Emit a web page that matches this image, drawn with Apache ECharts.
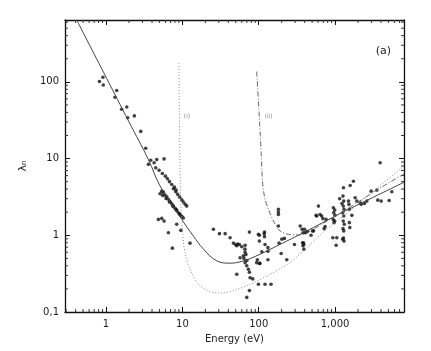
<!DOCTYPE html>
<html>
<head>
<meta charset="utf-8">
<script src="https://cdn.jsdelivr.net/npm/echarts@6/dist/echarts.min.js"></script>
<style>
  html, body { margin: 0; padding: 0; background: #fff; }
  #main { width: 431px; height: 351px; }
</style>
</head>
<body>
<div id="main"></div>
<script>
// measured points [energy eV, lambda_n]
var points = [
  [0.82,101],[0.91,115],[0.92,91],[1.31,63],[1.38,77],[1.60,44],[1.87,47],[1.92,34],[2.35,36],
  [2.85,22.6],[3.31,13.6],[3.59,8.4],[3.85,9.5],[4.26,8.8],
  [4.48,7.6],[4.62,9.7],[4.95,7.05],[5.47,6.4],[5.76,9.9],[6.0,5.9],[6.37,5.45],[6.77,5.0],
  [7.26,4.6],[7.87,4.24],[8.27,3.88],
  [7.63,4.04],[8.19,3.69],[8.69,3.41],[9.23,3.14],[9.82,2.9],[10.3,2.71],[10.9,2.53],[11.4,2.4],
  [5.1,3.48],[5.37,3.76],[5.64,3.65],[5.93,3.34],[6.24,3.18],[6.56,2.94],[6.9,2.74],[7.26,2.58],
  [7.63,2.4],[8.02,2.24],[8.43,2.11],[8.87,1.97],[9.33,1.85],[9.82,1.77],[10.3,1.68],
  [5.52,3.31],[6.11,3.02],[6.77,2.71],[7.48,2.4],[8.27,2.16],[9.14,1.91],
  [4.85,1.61],[5.37,1.66],[5.76,1.53],[6.56,1.08],[8.43,1.39],[9.53,1.16],[7.4,0.68],[12.6,0.79],
  [25.5,1.20],[30.6,1.05],[36.3,1.05],[42.2,0.93],[46.7,0.79],[51.6,0.73],[55.9,0.76],[60,0.71],
  [66.3,0.74],[57,0.51],[63,0.54],[66.3,0.60],[66.3,0.44],[69.8,0.40],[73.3,0.36],[75.5,0.33],
  [77.1,0.28],[83.6,0.27],[51.6,0.31],[75.5,0.19],[69.8,0.155],[75.5,1.10],[102,1.0],[102,0.84],
  [118,1.05],[110,0.61],[94,0.44],[102,0.43],[121,0.76],[99,0.23],[121,0.23],[145,0.23],
  [66,0.66],[68,0.56],[70,0.47],[64,0.50],[50,0.75],[53,0.77],
  [181,2.18],[181,2.01],[181,1.87],[181,1.32],[99,1.03],[119,1.10],[119,0.96],[132,0.69],
  [132,0.62],[96,0.48],[104,0.43],[132,0.48],[185,0.79],[201,0.89],[217,0.91],[197,0.58],
  [233,0.48],[294,0.76],[349,1.32],[398,1.20],[406,1.08],[420,1.10],[435,1.12],[385,0.80],
  [390,0.76],[390,0.66],[506,1.14],[565,1.82],[575,1.78],[606,2.40],[741,1.30],
  [370,1.2],[380,1.08],[375,0.80],[380,0.73],[485,1.0],[523,1.14],[636,1.87],[668,1.78],[762,1.61],
  [692,1.65],[720,1.22],[935,0.93],[1054,0.93],[1288,0.92],[1033,0.74],
  [950,2.29],[990,2.13],[960,1.97],[1000,1.82],[945,1.61],[985,1.53],[970,1.46],
  [1290,4.16],[1270,3.24],[1300,2.79],[1280,2.40],[1310,2.18],[1260,1.97],[1300,1.78],[1280,1.53],
  [1320,1.39],[1270,1.22],[1300,1.14],[1260,0.89],[1310,0.84],
  [1148,3.0],[1230,2.60],[1500,2.79],[1520,2.53],[1540,2.18],[1578,4.46],[1740,5.07],[1834,3.09],
  [1930,2.79],[1660,1.82],[1540,1.46],[1560,1.26],[2130,2.66],[2200,2.53],[2610,2.79],
  [3900,8.8],[2970,3.76],[3530,3.88],[5540,3.69],[3630,2.87],[4020,2.79],[5110,2.84],[2430,2.60]
];

// solid universal curve
var curveSolid = [
  [0.413,638],[1,115],[2,30],[3.59,9.7],[5.1,4.4],[9.8,1.61],[13.9,0.98],[18.9,0.66],
  [28.3,0.464],[42,0.433],[63,0.464],[104,0.566],[190,0.76],[385,1.08],[1228,1.97],[8000,4.9]
];
// curve (i), dotted
var curveI = [
  [9.0,175],[9.2,20],[9.5,3],[10.1,1.03],[10.8,0.60],[12.6,0.36],[16.2,0.23],[23.1,0.184],
  [31.1,0.177],[46.7,0.19],[77,0.23],[141,0.31],[256,0.44],[405,0.66],[741,1.15],[1440,1.95],
  [3000,3.6],[8000,8.0]
];
// curve (ii), dash-dot
var curveII = [
  [94,136],[105,20],[112,5],[115,3.96],[121,2.93],[134,2.18],[156,1.53],[190,1.14],[245,1.03],
  [330,1.01],[405,1.05],[741,1.48],[1228,2.0],[2350,3.0],[4000,4.2],[8000,6.3]
];

// minor tick positions (log axes)
var minorX = [0.3,0.4,0.5,0.6,0.7,0.8,0.9, 2,3,4,5,6,7,8,9, 20,30,40,50,60,70,80,90,
  200,300,400,500,600,700,800,900, 2000,3000,4000,5000,6000,7000];
var minorY = [0.2,0.3,0.4,0.5,0.6,0.7,0.8,0.9, 2,3,4,5,6,7,8,9, 20,30,40,50,60,70,80,90,
  200,300,400,500,600];

var labelFont = 'DejaVu Sans';
var myChart = echarts.init(document.getElementById('main'));

var baseX = {
  type: 'log', logBase: 10, min: 0.29, max: 8000,
  axisLine: { show: true, lineStyle: { color: '#111', width: 1.3 } },
  axisTick: { show: true, inside: true, length: 5, lineStyle: { color: '#111' } },
  splitLine: { show: false }
};
var baseY = {
  type: 'log', logBase: 10, min: 0.1, max: 640,
  axisLine: { show: true, lineStyle: { color: '#111', width: 1.3 } },
  axisTick: { show: true, inside: true, length: 5, lineStyle: { color: '#111' } },
  splitLine: { show: false }
};

function minorTickX(params, api) {
  var cs = params.coordSys;
  var x = api.coord([api.value(0), 1])[0];
  var yb = cs.y + cs.height;
  return { type: 'group', children: [
    { type: 'line', shape: { x1: x, y1: yb, x2: x, y2: yb - 3 }, style: { stroke: '#333', lineWidth: 1 } },
    { type: 'line', shape: { x1: x, y1: cs.y, x2: x, y2: cs.y + 3 }, style: { stroke: '#333', lineWidth: 1 } }
  ] };
}
function minorTickY(params, api) {
  var cs = params.coordSys;
  var y = api.coord([1, api.value(0)])[1];
  var xr = cs.x + cs.width;
  return { type: 'group', children: [
    { type: 'line', shape: { x1: cs.x, y1: y, x2: cs.x + 3, y2: y }, style: { stroke: '#333', lineWidth: 1 } },
    { type: 'line', shape: { x1: xr, y1: y, x2: xr - 3, y2: y }, style: { stroke: '#333', lineWidth: 1 } }
  ] };
}

var option = {
  animation: false,
  backgroundColor: '#fff',
  grid: { left: 65, right: 27, top: 20, bottom: 39 },
  xAxis: [
    Object.assign({}, baseX, {
      position: 'bottom',
      name: 'Energy (eV)', nameLocation: 'middle', nameGap: 22,
      nameTextStyle: { fontFamily: labelFont, fontSize: 10, color: '#222' },
      axisLabel: { fontFamily: labelFont, fontSize: 10, color: '#222', margin: 7,
        showMinLabel: false, showMaxLabel: false }
    }),
    Object.assign({}, baseX, { position: 'top', axisLabel: { show: false } })
  ],
  yAxis: [
    Object.assign({}, baseY, {
      position: 'left',
      name: 'λₙ', nameLocation: 'middle', nameGap: 30, nameRotate: 90,
      nameTextStyle: { fontFamily: labelFont, fontSize: 11, color: '#222' },
      axisLabel: { fontFamily: labelFont, fontSize: 10, color: '#222', margin: 6,
        showMinLabel: true, showMaxLabel: false,
        formatter: function (v) { return String(v).replace('.', ','); } }
    }),
    Object.assign({}, baseY, { position: 'right', axisLabel: { show: false } })
  ],
  series: [
    {
      type: 'custom', renderItem: minorTickX, data: minorX.map(function (v) { return [v]; }),
      encode: { x: 0 }, silent: true, clip: false
    },
    {
      type: 'custom', renderItem: minorTickY, data: minorY.map(function (v) { return [v]; }),
      encode: { y: 0 }, silent: true, clip: false
    },
    {
      type: 'line', data: curveSolid, smooth: 0.4, symbol: 'none',
      lineStyle: { color: '#444', width: 1 }
    },
    {
      type: 'line', data: curveI, smooth: 0.3, symbol: 'none',
      lineStyle: { color: '#888', width: 1, type: [1, 2] },
      markPoint: {
        symbol: 'circle', symbolSize: 0,
        label: { show: true, formatter: '(i)', fontFamily: labelFont, fontSize: 6, color: '#888' },
        data: [{ coord: [11.5, 35] }]
      }
    },
    {
      type: 'line', data: curveII, smooth: 0.3, symbol: 'none',
      lineStyle: { color: '#666', width: 1, type: [5, 2, 1, 2] },
      markPoint: {
        symbol: 'circle', symbolSize: 0,
        label: { show: true, formatter: '(ii)', fontFamily: labelFont, fontSize: 6, color: '#888' },
        data: [{ coord: [135, 35] }]
      }
    },
    {
      type: 'scatter', data: points, symbolSize: 3.6,
      itemStyle: { color: '#111' },
      markPoint: {
        symbol: 'circle', symbolSize: 0,
        label: { show: true, formatter: '(a)', fontFamily: labelFont, fontSize: 11, color: '#222' },
        data: [{ coord: [4300, 250] }]
      }
    }
  ]
};
myChart.setOption(option);
</script>
</body>
</html>
